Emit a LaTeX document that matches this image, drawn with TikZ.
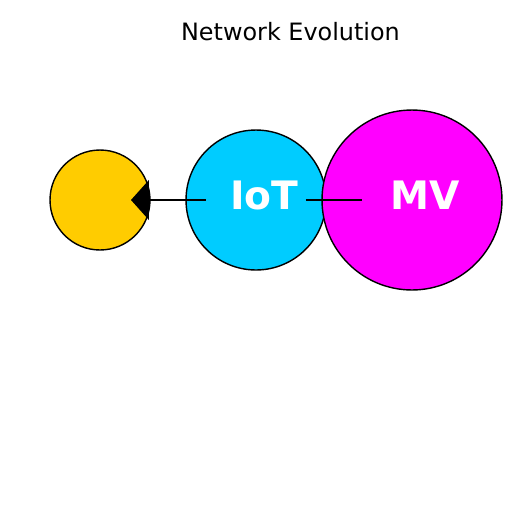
\documentclass[tikz,border=0pt]{standalone}
\usepackage{fontspec}
\setmainfont{DejaVu Sans}
\usetikzlibrary{arrows.meta}
\definecolor{sunyellow}{RGB}{255,204,0}
\definecolor{skycyan}{RGB}{0,204,255}
\definecolor{hotmagenta}{RGB}{255,0,255}

\begin{document}
\begin{tikzpicture}[x=0.02cm, y=-0.02cm,
    hub/.style={draw, circle, inner sep=0pt, line width=0.8pt},
    tag/.style={anchor=base, text=white, font=\fontsize{22.3}{25}\selectfont\bfseries}]
    \useasboundingbox (0,0) rectangle (512,512);
    \node[anchor=base, font=\fontsize{13.6}{16}\selectfont] (title) at (290.5,40) {Network Evolution};

    \node[hub, fill=sunyellow, minimum size=2cm] (edge) at (100,200) {};
    \node[hub, fill=skycyan, minimum size=2.8cm] (iot) at (256,200) {};
    \node[hub, fill=hotmagenta, minimum size=3.6cm] (mv) at (412,200) {};
    \node[tag] (iotlabel) at (264.5,209) {IoT};
    \node[tag] (mvlabel) at (425,209) {MV};

    \coordinate (edgetip) at (131,200);
    \coordinate (iotstub) at (206,200);
    \coordinate (iotout) at (306,200);
    \coordinate (mvstub) at (362,200);
    \draw[line width=0.75pt, -{Triangle[length=0.36cm, width=0.8cm]}] (iotstub) -- (edgetip);
    \draw[line width=0.75pt] (iotout) -- (mvstub);
\end{tikzpicture}
\end{document}
